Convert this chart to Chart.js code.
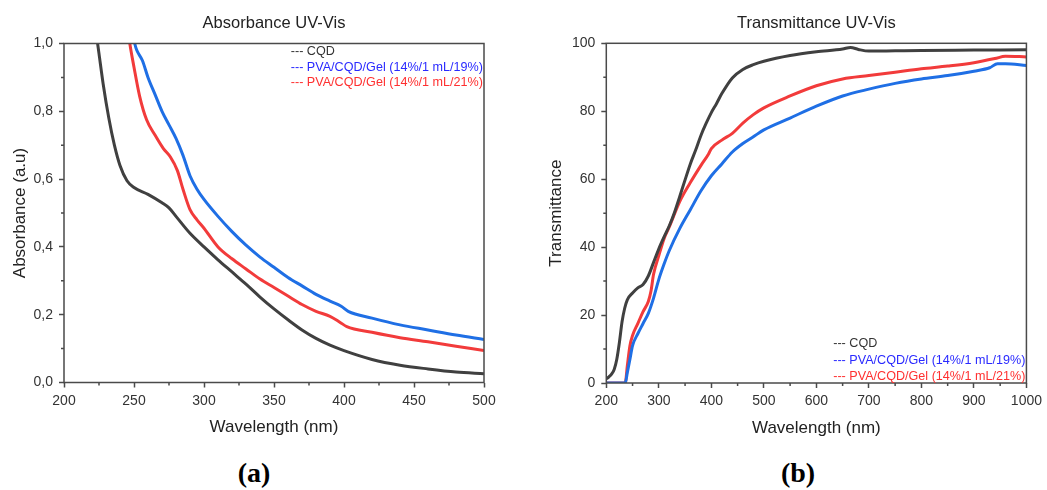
<!DOCTYPE html>
<html><head><meta charset="utf-8">
<script src="https://cdn.jsdelivr.net/npm/chart.js@4.4.1/dist/chart.umd.min.js"></script>
<style>
html,body{margin:0;padding:0;background:#fff;width:1047px;height:490px;overflow:hidden}
#c1{position:absolute;left:0;top:0}
#c2{position:absolute;left:525px;top:0}
.lab{position:absolute;font-family:'Liberation Serif','Times New Roman',serif;font-weight:bold;font-size:28px;line-height:1;color:#000;transform:translateX(-50%);white-space:nowrap}
</style></head><body>
<canvas id="c1" width="520" height="450" style="width:520px;height:450px"></canvas>
<canvas id="c2" width="522" height="450" style="width:522px;height:450px"></canvas>
<div class="lab" style="left:254px;top:459px">(a)</div>
<div class="lab" style="left:798px;top:459px">(b)</div>
<script>
// ---------- DATA ----------
const seriesNames = ['CQD', 'PVA/CQD/Gel (14%/1 mL/19%)', 'PVA/CQD/Gel (14%/1 mL/21%)'];

// (a) Absorbance
const absCqdX = [222,224,225,228,232,236,240,245,250,260,270,275,280,290,300,310,320,330,340,350,360,370,380,390,400,420,440,460,480,500];
const absCqdY = [1.06,1.0,0.97,0.88,0.78,0.70,0.64,0.595,0.575,0.555,0.53,0.515,0.49,0.44,0.40,0.362,0.326,0.29,0.252,0.217,0.185,0.155,0.13,0.11,0.094,0.068,0.051,0.04,0.031,0.026];
const absGel19X = [249,250.5,252,256,260,265,270,275,280,285,290,295,300,310,320,330,340,350,360,370,380,390,398,403,420,440,460,480,500];
const absGel19Y = [1.03,1.0,0.98,0.95,0.90,0.85,0.80,0.76,0.72,0.67,0.61,0.57,0.54,0.49,0.445,0.405,0.37,0.34,0.31,0.285,0.26,0.24,0.225,0.21,0.19,0.17,0.155,0.14,0.127];
const absGel21X = [246,247,250,254,259,265,271,276,281,285,290,295,300,310,320,330,340,350,360,370,380,390,397,402,420,440,460,480,500];
const absGel21Y = [1.03,1.0,0.93,0.845,0.775,0.73,0.69,0.665,0.625,0.57,0.51,0.48,0.455,0.40,0.365,0.335,0.305,0.28,0.255,0.23,0.21,0.195,0.178,0.165,0.148,0.132,0.12,0.107,0.094];
const absXTicks = [200,250,300,350,400,450,500];
const absXTickLabels = ['200','250','300','350','400','450','500'];
const absXMinor = [225,275,325,375,425,475];
const absYTicks = [0,0.2,0.4,0.6,0.8,1.0];
const absYTickLabels = ['0,0','0,2','0,4','0,6','0,8','1,0'];
const absYMinor = [0.1,0.3,0.5,0.7,0.9];

// (b) Transmittance
const trCqdX = [200,205,210,215,220,225,230,235,240,250,260,270,280,290,300,310,320,330,340,350,360,370,380,390,400,410,420,440,460,480,500,550,600,650,665,680,700,750,800,900,1000];
const trCqdY = [1.2,1.8,2.6,4,7,12,18,22,24.5,26.5,28,29,31.5,35.5,39.5,43,46.3,50.3,55,59.8,64.5,68.5,72.8,76.4,79.6,82.3,85.2,89.8,92.3,93.7,94.7,96.4,97.5,98.3,98.8,98.2,97.7,97.8,97.9,98,98.1];
const trGel19X = [200,236,240,245,250,260,270,280,290,300,310,320,340,360,380,400,420,440,460,480,500,550,600,650,700,750,800,850,900,930,945,960,1000];
const trGel19Y = [0,0,3,7,11,14.5,17.5,20.5,25,30.5,35,39,45.5,51,56.5,61,64.5,68,70.5,72.5,74.5,78,81.5,84.5,86.5,88.2,89.5,90.5,91.8,92.8,94,94,93.5];
const trGel21X = [200,236,240,245,250,260,270,280,285,290,300,310,320,340,360,380,395,400,420,440,460,480,500,550,600,650,700,750,800,850,900,940,960,1000];
const trGel21Y = [0,0,5,11,14,17.5,21,24,27,32,37.5,42.5,46,53.5,59,64,67.5,69,71.5,73.5,76.5,79,81,84.5,87.5,89.5,90.5,91.5,92.5,93.3,94.3,95.5,96.2,96];
const trXTicks = [200,300,400,500,600,700,800,900,1000];
const trXTickLabels = ['200','300','400','500','600','700','800','900','1000'];
const trXMinor = [250,350,450,550,650,750,850,950];
const trYTicks = [0,20,40,60,80,100];
const trYTickLabels = ['0','20','40','60','80','100'];
const trYMinor = [10,30,50,70,90];

// ---------- STYLE ----------
const FONT = '"Liberation Sans", Arial, Helvetica, sans-serif';
const AXIS = '#4a4a4a';
const lineColors = ['#404040', '#1f6fe5', '#f23b3b'];
const legendColors = ['#333333', '#2a2aff', '#ff3030'];

function pts(xs, ys){ return xs.map((x,i)=>({x:x, y:ys[i]})); }
function labelFor(vals, labels, v){ const k = vals.findIndex(t => Math.abs(t - v) < 1e-9); return k >= 0 ? labels[k] : ''; }

function makeDecor(cfg){
  return {
    id:'decor',
    afterDatasetsDraw(chart){
      const ctx = chart.ctx, a = chart.chartArea, xs = chart.scales.x, ys = chart.scales.y;
      ctx.save();
      ctx.strokeStyle = AXIS; ctx.lineWidth = 1.5;
      ctx.strokeRect(a.left, a.top, a.right - a.left, a.bottom - a.top);
      ctx.beginPath();
      cfg.minorX.forEach(v=>{ const p = xs.getPixelForValue(v); ctx.moveTo(p, a.bottom); ctx.lineTo(p, a.bottom + 3); });
      cfg.minorY.forEach(v=>{ const p = ys.getPixelForValue(v); ctx.moveTo(a.left, p); ctx.lineTo(a.left - 3, p); });
      ctx.stroke();
      ctx.fillStyle = '#222';
      ctx.font = '16.5px ' + FONT;
      ctx.textAlign = 'center'; ctx.textBaseline = 'middle';
      ctx.fillText(cfg.title, (a.left + a.right)/2, cfg.titleY);
      ctx.font = '12.6px ' + FONT;
      ctx.textAlign = 'left';
      const texts = seriesNames.map(n => '--- ' + n);
      const w = Math.max.apply(null, texts.map(t => ctx.measureText(t).width));
      const lx = a.right - 1 - w;
      texts.forEach((t,i)=>{ ctx.fillStyle = legendColors[i]; ctx.fillText(t, lx, cfg.legendY + i*cfg.legendStep); });
      ctx.restore();
    }
  };
}

function makeChart(id, cfg){
  const datasets = cfg.series.map((s,i)=>({
    label: seriesNames[i], data: pts(s[0], s[1]),
    borderColor: lineColors[i], backgroundColor: lineColors[i],
    borderWidth: 3, pointRadius: 0, cubicInterpolationMode: 'monotone', fill: false
  }));
  return new Chart(document.getElementById(id), {
    type: 'line',
    data: { datasets },
    options: {
      responsive: false, animation: false, devicePixelRatio: 1,
      layout: { padding: { top: cfg.top, right: cfg.padRight, left: 0, bottom: 0 } },
      plugins: { legend: { display: false }, tooltip: { enabled: false }, title: { display: false } },
      scales: {
        x: {
          type: 'linear', min: cfg.xTicks[0], max: cfg.xTicks[cfg.xTicks.length-1],
          afterBuildTicks: s => { s.ticks = cfg.xTicks.map(v=>({value:v})); },
          afterFit: s => { s.height = cfg.xHeight; },
          grid: { drawOnChartArea: false, drawTicks: true, tickLength: 5, tickColor: AXIS, tickWidth: 1.5 },
          border: { display: false },
          ticks: { color: '#333', font: { family: FONT, size: 14 }, padding: 5, maxRotation: 0, autoSkip: false,
                   callback: (v) => labelFor(cfg.xTicks, cfg.xLabels, v) },
          title: { display: true, text: 'Wavelength (nm)', color: '#222', font: { family: FONT, size: 17 }, padding: { top: 0, bottom: cfg.xTitlePad } }
        },
        y: {
          type: 'linear', min: cfg.yTicks[0], max: cfg.yTicks[cfg.yTicks.length-1],
          afterBuildTicks: s => { s.ticks = cfg.yTicks.map(v=>({value:v})); },
          afterFit: s => { s.width = cfg.yWidth; },
          grid: { drawOnChartArea: false, drawTicks: true, tickLength: 5, tickColor: AXIS, tickWidth: 1.5 },
          border: { display: false },
          ticks: { color: '#333', font: { family: FONT, size: 14 }, padding: 6, autoSkip: false,
                   callback: (v) => labelFor(cfg.yTicks, cfg.yLabels, v) },
          title: { display: true, text: cfg.yTitle, color: '#222', font: { family: FONT, size: 17 }, padding: { top: cfg.yTitlePad, bottom: 0 } }
        }
      }
    },
    plugins: [makeDecor(cfg)]
  });
}

makeChart('c1', {
  series: [[absCqdX, absCqdY], [absGel19X, absGel19Y], [absGel21X, absGel21Y]],
  xTicks: absXTicks, xLabels: absXTickLabels, minorX: absXMinor, yTicks: absYTicks, yLabels: absYTickLabels, minorY: absYMinor,
  top: 43.5, padRight: 36, yWidth: 64, xHeight: 67.5, xTitlePad: 12.8, yTitlePad: 9.8,
  yTitle: 'Absorbance (a.u)', title: 'Absorbance UV-Vis', titleY: 23, legendY: 52, legendStep: 15.5
});
makeChart('c2', {
  series: [[trCqdX, trCqdY], [trGel19X, trGel19Y], [trGel21X, trGel21Y]],
  xTicks: trXTicks, xLabels: trXTickLabels, minorX: trXMinor, yTicks: trYTicks, yLabels: trYTickLabels, minorY: trYMinor,
  top: 43.3, padRight: 18, yWidth: 81.3, xHeight: 67, xTitlePad: 11.8, yTitlePad: 21.5,
  yTitle: 'Transmittance', title: 'Transmittance UV-Vis', titleY: 23, legendY: 343.5, legendStep: 16.7
});
</script>
</body></html>
